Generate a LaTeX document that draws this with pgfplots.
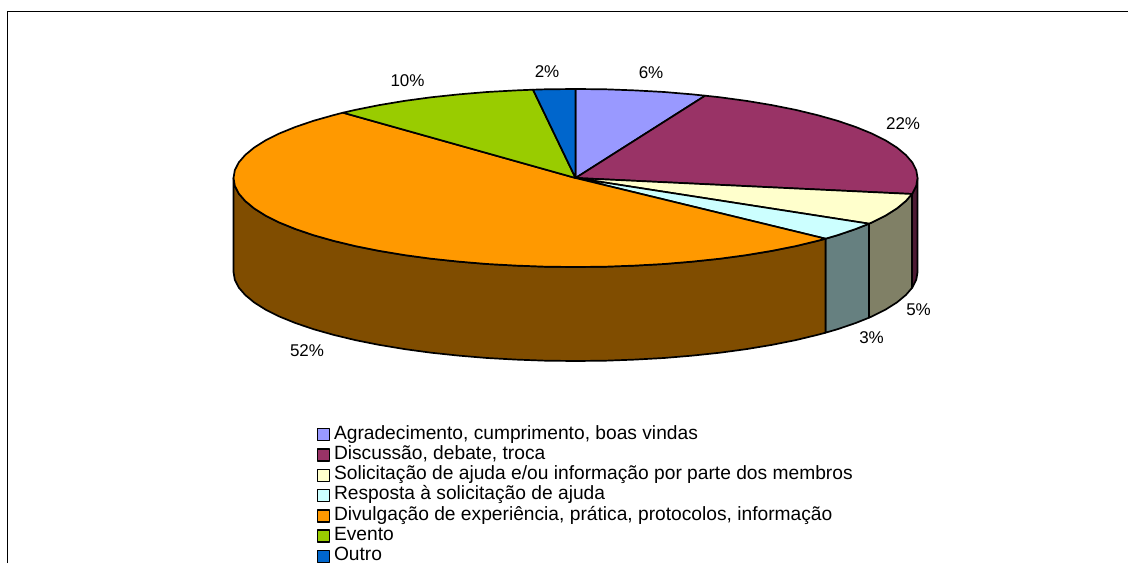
\documentclass[border=0pt]{standalone}
\usepackage{pgfplots}
\pgfplotsset{compat=1.18}
\usepackage{fontspec}
\setmainfont{Liberation Sans}
\definecolor{cA}{HTML}{9999FF}
\definecolor{cB}{HTML}{993366}
\definecolor{cC}{HTML}{FFFFCC}
\definecolor{cD}{HTML}{CCFFFF}
\definecolor{cE}{HTML}{FF9900}
\definecolor{cF}{HTML}{99CC00}
\definecolor{cG}{HTML}{0066CC}
\definecolor{sB}{HTML}{4D1A33}
\definecolor{sC}{HTML}{808066}
\definecolor{sD}{HTML}{668080}
\definecolor{sE}{HTML}{804D00}
\begin{document}
\begin{tikzpicture}
\path[use as bounding box] (0,0) rectangle (1128pt,563pt);
\begin{axis}[
  at={(0,0)},anchor=south west,
  width=1128pt,height=563pt,scale only axis,
  xmin=-575.5,xmax=552.5,ymin=-385,ymax=178,
  axis lines=none,clip=true,
  legend cell align=left,
  legend style={at={(axis cs:-259,-247)},anchor=north west,draw=none,fill=none,inner sep=0pt,outer sep=0pt,
    font=\fontsize{19.2}{21}\selectfont,
    nodes={inner sep=0pt,text height=14pt,text depth=6.3pt},
    /tikz/column 1/.append style={column sep=4pt}},
  legend image code/.code={\draw[#1,line width=1.5pt] (0pt,-5.5pt) rectangle (12pt,6.5pt);},
  every axis plot/.append style={draw=black,line width=1.7pt,line join=round},
]
% frame
\addplot[forget plot,line width=1.8pt,fill=none] coordinates {(-568,-385) (-568,166.5) (552.5,166.5)};
% side faces
\addplot[forget plot,fill=sB] coordinates {(342,0)(340.7,-7.8)(336.8,-15.5)(336.4,-16)(336.4,-110)(336.8,-109.5)(340.7,-101.8)(342,-94)} --cycle;
\addplot[forget plot,fill=sC] coordinates {(336.4,-16)(330.3,-23)(321.4,-30.4)(310,-37.6)(296.2,-44.5)(293.5,-45.7)(293.5,-139.7)(296.2,-138.5)(310,-131.6)(321.4,-124.4)(330.3,-117)(336.4,-110)} --cycle;
\addplot[forget plot,fill=sD] coordinates {(293.5,-45.7)(280.2,-51)(262,-57.2)(250,-60.7)(250,-154.7)(262,-151.2)(280.2,-145)(293.5,-139.7)} --cycle;
\addplot[forget plot,fill=sE] coordinates {(250,-60.7)(241.8,-62.9)(219.8,-68.2)(196.2,-72.9)(171,-77.1)(144.5,-80.7)(117,-83.6)(88.5,-86)(59.4,-87.6)(29.8,-88.7)(0,-89)
 (-29.8,-88.7)(-59.4,-87.6)(-88.5,-86)(-117,-83.6)(-144.5,-80.7)(-171,-77.1)(-196.2,-72.9)(-219.8,-68.2)(-241.8,-62.9)(-262,-57.2)(-280.2,-51)(-296.2,-44.5)(-310,-37.6)(-321.4,-30.4)(-330.3,-23)(-336.8,-15.5)(-340.7,-7.8)(-342,0)
 (-342,-94)(-340.7,-101.8)(-336.8,-109.5)(-330.3,-117)(-321.4,-124.4)(-310,-131.6)(-296.2,-138.5)(-280.2,-145)(-262,-151.2)(-241.8,-156.9)(-219.8,-162.2)(-196.2,-166.9)(-171,-171.1)(-144.5,-174.7)(-117,-177.6)(-88.5,-180)(-59.4,-181.6)(-29.8,-182.7)(0,-183)
 (29.8,-182.7)(59.4,-181.6)(88.5,-180)(117,-177.6)(144.5,-174.7)(171,-171.1)(196.2,-166.9)(219.8,-162.2)(241.8,-156.9)(250,-154.7)} --cycle;
% top slices
\addplot[fill=cA] coordinates {(0,0)(0,89)(29.8,88.7)(59.4,87.6)(88.5,86)(117,83.6)(129.6,82.3)} --cycle;
\addlegendentry{Agradecimento, cumprimento, boas vindas}
\addplot[fill=cB] coordinates {(0,0)(129.6,82.3)(144.5,80.7)(171,77.1)(196.2,72.9)(219.8,68.2)(241.8,62.9)(262,57.2)(280.2,51)(296.2,44.5)(310,37.6)(321.4,30.4)(330.3,23)(336.8,15.5)(340.7,7.8)(342,0)(340.7,-7.8)(336.8,-15.5)(336.4,-16)} --cycle;
\addlegendentry{Discussão, debate, troca}
\addplot[fill=cC] coordinates {(0,0)(336.4,-16)(330.3,-23)(321.4,-30.4)(310,-37.6)(296.2,-44.5)(293.5,-45.7)} --cycle;
\addlegendentry{Solicitação de ajuda e/ou informação por parte dos membros}
\addplot[fill=cD] coordinates {(0,0)(293.5,-45.7)(280.2,-51)(262,-57.2)(250,-60.7)} --cycle;
\addlegendentry{Resposta à solicitação de ajuda}
\addplot[fill=cE] coordinates {(0,0)(250,-60.7)(241.8,-62.9)(219.8,-68.2)(196.2,-72.9)(171,-77.1)(144.5,-80.7)(117,-83.6)(88.5,-86)(59.4,-87.6)(29.8,-88.7)(0,-89)
 (-29.8,-88.7)(-59.4,-87.6)(-88.5,-86)(-117,-83.6)(-144.5,-80.7)(-171,-77.1)(-196.2,-72.9)(-219.8,-68.2)(-241.8,-62.9)(-262,-57.2)(-280.2,-51)(-296.2,-44.5)(-310,-37.6)(-321.4,-30.4)(-330.3,-23)(-336.8,-15.5)(-340.7,-7.8)(-342,0)
 (-340.7,7.8)(-336.8,15.5)(-330.3,23)(-321.4,30.4)(-310,37.6)(-296.2,44.5)(-280.2,51)(-262,57.2)(-241.8,62.9)(-232.5,65.3)} --cycle;
\addlegendentry{Divulgação de experiência, prática, protocolos, informação}
\addplot[fill=cF] coordinates {(0,0)(-232.5,65.3)(-219.8,68.2)(-196.2,72.9)(-171,77.1)(-144.5,80.7)(-117,83.6)(-88.5,86)(-59.4,87.6)(-42.5,88.3)} --cycle;
\addlegendentry{Evento}
\addplot[fill=cG] coordinates {(0,0)(-42.5,88.3)(-29.8,88.7)(0,89)} --cycle;
\addlegendentry{Outro}
% labels
\node[font=\fontsize{17}{18}\selectfont] at (axis cs:75.5,105) {6\%};
\node[font=\fontsize{17}{18}\selectfont] at (axis cs:327.5,54) {22\%};
\node[font=\fontsize{17}{18}\selectfont] at (axis cs:343,-132) {5\%};
\node[font=\fontsize{17}{18}\selectfont] at (axis cs:296,-160) {3\%};
\node[font=\fontsize{17}{18}\selectfont] at (axis cs:-268.5,-173) {52\%};
\node[font=\fontsize{17}{18}\selectfont] at (axis cs:-168,97) {10\%};
\node[font=\fontsize{17}{18}\selectfont] at (axis cs:-28.5,106) {2\%};
\end{axis}
\end{tikzpicture}
\end{document}
